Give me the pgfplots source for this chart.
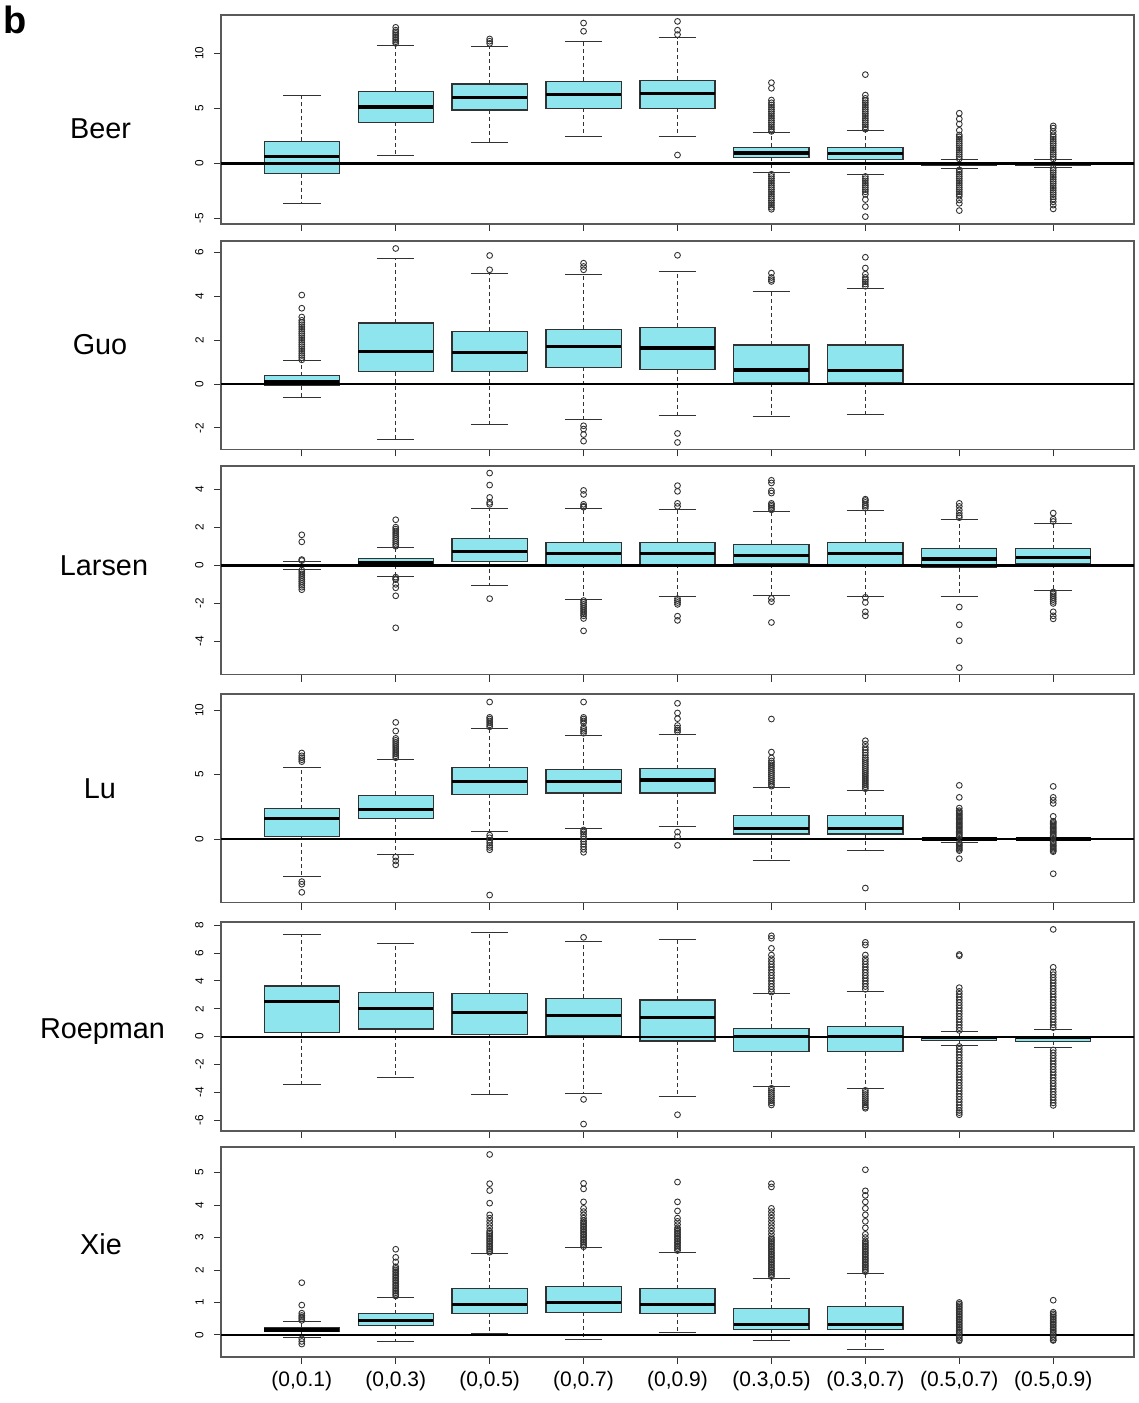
\documentclass[border=0pt]{standalone}
\usepackage{pgfplots}
\pgfplotsset{compat=1.18}
\usepgfplotslibrary{statistics}
\usepackage{fontspec}
\setmainfont{Liberation Sans}
\definecolor{boxcyan}{RGB}{142,229,238}
\definecolor{boxedge}{RGB}{50,50,50}

\pgfplotsset{
  panel/.style={
    scale only axis, width=456.5pt, anchor=north west,
    xmin=0.14, xmax=9.86,
    xtick={1,2,3,4,5,6,7,8,9}, xticklabels={{},{},{},{},{},{},{},{},{}},
    tick align=outside, tick pos=left,
    major tick length=3.5pt,
    tick style={draw=black!80, line width=0.5pt},
    axis line style={draw=black!65, line width=0.7pt},
    yticklabel style={rotate=90, anchor=south, inner sep=0pt, font=\fontsize{5.9}{6}\selectfont},
    yticklabel shift=5pt,
    /pgf/number format/assume math mode=true,
    clip=false,
  },
  bxs/.style={
    boxplot/draw direction=y,
    mark=o, mark size=1.45pt,
    mark options={draw=black!80, line width=0.45pt, solid, fill=none},
    boxplot/box extend=0.8,
    boxplot/whisker extend=0.4,
    boxplot/every box/.style={fill=boxcyan, draw=boxedge, line width=0.6pt},
    boxplot/every median/.style={draw=black, line width=1.6pt},
    boxplot/draw/lower whisker/.code={%
      \draw[draw=boxedge, line width=0.5pt, dash pattern=on 2pt off 1.5pt]
        (boxplot box cs:\pgfplotsboxplotvalue{lower quartile},0.5) --
        (boxplot box cs:\pgfplotsboxplotvalue{lower whisker},0.5);
      \draw[draw=boxedge, line width=0.5pt]
        (boxplot whisker cs:\pgfplotsboxplotvalue{lower whisker},0) --
        (boxplot whisker cs:\pgfplotsboxplotvalue{lower whisker},1);
    },
    boxplot/draw/upper whisker/.code={%
      \draw[draw=boxedge, line width=0.5pt, dash pattern=on 2pt off 1.5pt]
        (boxplot box cs:\pgfplotsboxplotvalue{upper quartile},0.5) --
        (boxplot box cs:\pgfplotsboxplotvalue{upper whisker},0.5);
      \draw[draw=boxedge, line width=0.5pt]
        (boxplot whisker cs:\pgfplotsboxplotvalue{upper whisker},0) --
        (boxplot whisker cs:\pgfplotsboxplotvalue{upper whisker},1);
    },
  },
}

\newcommand{\bx}[7]{\addplot[bxs, boxplot prepared={draw position=#1, lower whisker=#2, lower quartile=#3, median=#4, upper quartile=#5, upper whisker=#6}] table[row sep=\\, y index=0] {data\\ #7};}
\newcommand{\bn}[6]{\addplot[bxs, boxplot prepared={draw position=#1, lower whisker=#2, lower quartile=#3, median=#4, upper quartile=#5, upper whisker=#6}] coordinates {};}
\newcommand{\bz}[7]{\addplot[bxs, boxplot/every median/.style={draw=none}, boxplot/every box/.style={draw=none,fill=none}, boxplot prepared={draw position=#1, lower whisker=#2, lower quartile=#3, median=#4, upper quartile=#5, upper whisker=#6}] table[row sep=\\, y index=0] {data\\ #7};}

\begin{document}
\begin{tikzpicture}
\path[use as bounding box] (0,0) rectangle (569.5pt,-701.5pt);
\node[anchor=base west, font=\bfseries\fontsize{19}{20}\selectfont, inner sep=0pt] at (1.5pt,-16.5pt) {b};
\begin{scope}[every node/.style={font=\fontsize{14.4}{16}\selectfont, anchor=base, inner sep=0pt}]
\node at (50.25pt,-69pt) {Beer};
\node at (50pt,-177.3pt) {Guo};
\node at (52pt,-287.7pt) {Larsen};
\node at (50pt,-399.2pt) {Lu};
\node at (51.25pt,-519.2pt) {Roepman};
\node at (50.5pt,-627.2pt) {Xie};
\end{scope}

% ---------------- Beer
\begin{axis}[panel, at={(110.5pt,-7.5pt)}, height=104.5pt, ymin=-5.52, ymax=13.48, ytick={-5,0,5,10}]
\bn{1}{-3.64}{-0.94}{0.64}{2.0}{6.18}
\bx{2}{0.69}{3.73}{5.12}{6.55}{10.73}{10.9\\11.05\\11.2\\11.35\\11.5\\11.65\\11.8\\11.95\\12.1\\12.36\\}
\bx{3}{1.85}{4.85}{6.0}{7.21}{10.64}{10.9\\11.1\\11.3\\}
\bx{4}{2.42}{5.0}{6.28}{7.45}{11.03}{12.0\\12.75\\}
\bx{5}{2.42}{5.0}{6.35}{7.55}{11.4}{11.7\\12.1\\12.9\\0.75\\}
\bx{6}{-0.85}{0.55}{0.94}{1.45}{2.78}{2.9\\3.1\\3.3\\3.5\\3.7\\3.9\\4.1\\4.3\\4.5\\4.7\\4.9\\5.1\\5.3\\5.5\\5.75\\6.82\\7.33\\-1.0\\-1.2\\-1.4\\-1.6\\-1.8\\-2.0\\-2.2\\-2.4\\-2.6\\-2.8\\-3.0\\-3.2\\-3.4\\-3.6\\-3.8\\-4.0\\-4.18\\}
\bx{7}{-1.06}{0.36}{0.87}{1.45}{2.96}{3.1\\3.3\\3.5\\3.7\\3.9\\4.1\\4.3\\4.5\\4.7\\4.9\\5.1\\5.3\\5.5\\5.7\\5.9\\6.2\\8.06\\-1.2\\-1.4\\-1.6\\-1.8\\-2.0\\-2.2\\-2.4\\-2.6\\-2.82\\-3.3\\-3.94\\-4.85\\}
\bx{8}{-0.45}{-0.15}{-0.05}{0.1}{0.33}{0.4\\0.6\\0.8\\1.0\\1.2\\1.4\\1.6\\1.8\\2.0\\2.2\\2.4\\2.57\\3.0\\3.57\\4.03\\4.55\\-0.6\\-0.8\\-1.0\\-1.2\\-1.4\\-1.6\\-1.8\\-2.0\\-2.2\\-2.4\\-2.6\\-2.8\\-3.0\\-3.34\\-3.64\\-4.3\\}
\bx{9}{-0.36}{-0.15}{-0.05}{0.05}{0.33}{0.4\\0.6\\0.8\\1.0\\1.2\\1.4\\1.6\\1.8\\2.0\\2.2\\2.4\\2.6\\2.9\\3.2\\3.4\\-0.45\\-0.65\\-0.85\\-1.05\\-1.25\\-1.45\\-1.65\\-1.85\\-2.05\\-2.25\\-2.45\\-2.65\\-2.85\\-3.05\\-3.25\\-3.5\\-3.8\\-4.15\\}
\addplot[black, line width=1.65pt] coordinates {(0.14,0) (9.86,0)};
\end{axis}

% ---------------- Guo
\begin{axis}[panel, at={(110.5pt,-120.5pt)}, height=104.25pt, ymin=-2.98, ymax=6.51, ytick={-2,0,2,4,6}]
\bx{1}{-0.61}{-0.08}{0.12}{0.38}{1.05}{1.1\\1.2\\1.3\\1.4\\1.5\\1.6\\1.7\\1.8\\1.9\\2.0\\2.1\\2.2\\2.3\\2.4\\2.5\\2.6\\2.7\\2.8\\2.9\\3.05\\3.45\\4.05\\}
\bx{2}{-2.54}{0.56}{1.49}{2.78}{5.72}{6.17\\}
\bx{3}{-1.83}{0.56}{1.45}{2.4}{5.02}{5.2\\5.85\\}
\bx{4}{-1.61}{0.76}{1.72}{2.5}{4.97}{5.2\\5.35\\5.5\\-1.9\\-2.05\\-2.3\\-2.6\\}
\bx{5}{-1.43}{0.65}{1.64}{2.59}{5.13}{5.86\\-2.25\\-2.66\\}
\bx{6}{-1.48}{0.06}{0.64}{1.78}{4.19}{4.67\\4.75\\4.85\\5.05\\}
\bx{7}{-1.37}{0.05}{0.61}{1.78}{4.37}{4.45\\4.55\\4.65\\4.75\\4.85\\5.0\\5.28\\5.77\\}
\addplot[black, line width=1.3pt] coordinates {(0.14,0) (9.86,0)};
\end{axis}

% ---------------- Larsen
\begin{axis}[panel, at={(110.5pt,-233pt)}, height=104.25pt, ymin=-5.73, ymax=5.21, ytick={-4,-2,0,2,4}]
\bx{1}{-0.2}{-0.05}{0.0}{0.05}{0.2}{0.25\\0.3\\1.23\\1.6\\-0.25\\-0.35\\-0.45\\-0.55\\-0.65\\-0.75\\-0.85\\-0.95\\-1.05\\-1.15\\-1.28\\}
\bx{2}{-0.58}{0.02}{0.12}{0.35}{0.91}{1.0\\1.1\\1.2\\1.3\\1.4\\1.5\\1.6\\1.7\\1.8\\1.9\\2.0\\2.39\\-0.62\\-0.7\\-0.75\\-1.0\\-1.18\\-1.6\\-3.28\\}
\bx{3}{-1.05}{0.19}{0.72}{1.40}{3.0}{3.2\\3.3\\3.56\\4.21\\4.84\\-1.75\\}
\bx{4}{-1.79}{0.05}{0.63}{1.21}{3.0}{3.05\\3.1\\3.2\\3.72\\3.93\\-1.85\\-1.95\\-2.05\\-2.15\\-2.25\\-2.35\\-2.45\\-2.55\\-2.65\\-2.79\\-3.44\\}
\bx{5}{-1.65}{0.05}{0.60}{1.21}{2.93}{3.09\\3.25\\3.88\\4.18\\-1.75\\-1.85\\-1.95\\-2.05\\-2.67\\-2.89\\}
\bx{6}{-1.58}{0.07}{0.51}{1.1}{2.81}{2.91\\3.0\\3.09\\3.17\\3.25\\3.79\\3.91\\4.32\\4.46\\-1.74\\-1.91\\-3.0\\}
\bx{7}{-1.63}{0.05}{0.61}{1.19}{2.89}{3.0\\3.1\\3.18\\3.3\\3.4\\3.47\\-1.68\\-1.95\\-2.44\\-2.65\\}
\bx{8}{-1.63}{-0.12}{0.33}{0.88}{2.4}{2.5\\2.6\\2.74\\2.91\\3.09\\3.25\\-2.19\\-3.12\\-3.96\\-5.37\\}
\bx{9}{-1.33}{0.07}{0.42}{0.88}{2.21}{2.3\\2.42\\2.74\\-1.4\\-1.5\\-1.6\\-1.7\\-1.8\\-1.9\\-2.0\\-2.44\\-2.65\\-2.81\\}
\addplot[black, line width=1.35pt] coordinates {(0.14,0) (9.86,0)};
\end{axis}

% ---------------- Lu
\begin{axis}[panel, at={(110.5pt,-347pt)}, height=104.25pt, ymin=-4.92, ymax=11.24, ytick={0,5,10}]
\bx{1}{-2.87}{0.21}{1.58}{2.35}{5.53}{6.0\\6.15\\6.3\\6.45\\6.67\\-3.3\\-3.5\\-4.13\\}
\bx{2}{-1.19}{1.6}{2.30}{3.39}{6.2}{6.3\\6.45\\6.6\\6.75\\6.9\\7.05\\7.2\\7.35\\7.5\\7.65\\7.8\\8.37\\9.04\\-1.4\\-1.7\\-2.0\\}
\bx{3}{0.57}{3.46}{4.47}{5.53}{8.53}{8.7\\8.85\\9.0\\9.15\\9.3\\9.43\\10.62\\0.3\\0.1\\-0.1\\-0.3\\-0.5\\-0.65\\-0.83\\-4.34\\}
\bx{4}{0.85}{3.57}{4.47}{5.37}{8.06}{8.2\\8.35\\8.5\\8.65\\9.0\\9.15\\9.3\\9.43\\10.62\\0.7\\0.55\\0.4\\0.2\\0.0\\-0.2\\-0.4\\-0.6\\-0.8\\-1.03\\}
\bx{5}{0.96}{3.57}{4.57}{5.45}{8.14}{8.3\\8.45\\8.6\\8.8\\9.33\\9.77\\10.52\\0.54\\0.18\\-0.49\\}
\bx{6}{-1.68}{0.39}{0.83}{1.81}{3.98}{4.1\\4.25\\4.4\\4.55\\4.7\\4.85\\5.0\\5.15\\5.3\\5.45\\5.6\\5.75\\5.9\\6.05\\6.28\\6.74\\9.3\\}
\bx{7}{-0.9}{0.39}{0.83}{1.81}{3.75}{3.9\\4.05\\4.2\\4.35\\4.5\\4.65\\4.8\\4.95\\5.1\\5.25\\5.4\\5.55\\5.7\\5.85\\6.0\\6.15\\6.3\\6.5\\6.7\\6.9\\7.1\\7.35\\7.62\\-3.8\\}
\bx{8}{-0.26}{-0.03}{0.0}{0.03}{0.1}{0.2\\0.3\\0.4\\0.5\\0.6\\0.7\\0.8\\0.9\\1.0\\1.1\\1.2\\1.3\\1.4\\1.5\\1.6\\1.7\\1.8\\1.9\\2.0\\2.1\\2.2\\2.4\\3.23\\4.16\\-0.3\\-0.4\\-0.5\\-0.6\\-0.7\\-0.8\\-0.9\\-1.52\\}
\bx{9}{-0.12}{-0.03}{0.0}{0.03}{0.12}{0.2\\0.3\\0.4\\0.5\\0.6\\0.7\\0.8\\0.9\\1.0\\1.1\\1.2\\1.3\\1.37\\1.76\\2.76\\3.0\\3.23\\4.08\\-0.2\\-0.3\\-0.4\\-0.5\\-0.6\\-0.7\\-0.8\\-0.9\\-0.98\\-2.69\\}
\addplot[black, line width=0.85pt] coordinates {(0.14,0) (9.86,0)};
\end{axis}

% ---------------- Roepman
\begin{axis}[panel, at={(110.5pt,-461pt)}, height=104.5pt, ymin=-6.77, ymax=8.23, ytick={-6,-4,-2,0,2,4,6,8}]
\bn{1}{-3.4}{0.31}{2.51}{3.64}{7.32}
\bn{2}{-2.92}{0.55}{2.03}{3.18}{6.67}
\bn{3}{-4.16}{0.17}{1.75}{3.09}{7.49}
\bx{4}{-4.07}{0.07}{1.53}{2.75}{6.84}{7.13\\-4.5\\-6.27\\}
\bx{5}{-4.28}{-0.31}{1.36}{2.63}{6.94}{-5.6\\}
\bx{6}{-3.56}{-1.08}{0.0}{0.6}{3.09}{3.2\\3.4\\3.6\\3.8\\4.0\\4.2\\4.4\\4.6\\4.8\\5.0\\5.2\\5.4\\5.6\\5.86\\6.34\\7.06\\7.24\\-3.7\\-3.85\\-4.0\\-4.15\\-4.3\\-4.45\\-4.6\\-4.75\\-4.9\\}
\bx{7}{-3.73}{-1.08}{0.0}{0.74}{3.25}{3.4\\3.6\\3.8\\4.0\\4.2\\4.4\\4.6\\4.8\\5.0\\5.2\\5.4\\5.6\\5.86\\6.58\\6.77\\-3.85\\-4.0\\-4.15\\-4.3\\-4.45\\-4.6\\-4.75\\-4.9\\-5.05\\-5.14\\}
\bx{8}{-0.6}{-0.26}{-0.03}{0.0}{0.38}{0.45\\0.65\\0.85\\1.05\\1.25\\1.45\\1.65\\1.85\\2.05\\2.25\\2.45\\2.65\\2.85\\3.05\\3.25\\3.52\\5.81\\5.9\\-0.7\\-0.9\\-1.1\\-1.3\\-1.5\\-1.7\\-1.9\\-2.1\\-2.3\\-2.5\\-2.7\\-2.9\\-3.1\\-3.3\\-3.5\\-3.7\\-3.9\\-4.1\\-4.3\\-4.5\\-4.7\\-4.9\\-5.1\\-5.3\\-5.45\\-5.6\\}
\bx{9}{-0.81}{-0.33}{-0.03}{0.0}{0.53}{0.65\\0.85\\1.05\\1.25\\1.45\\1.65\\1.85\\2.05\\2.25\\2.45\\2.65\\2.85\\3.05\\3.25\\3.45\\3.65\\3.85\\4.05\\4.25\\4.45\\4.65\\4.98\\7.7\\-0.95\\-1.15\\-1.35\\-1.55\\-1.75\\-1.95\\-2.15\\-2.35\\-2.55\\-2.75\\-2.95\\-3.15\\-3.35\\-3.55\\-3.75\\-3.95\\-4.15\\-4.35\\-4.55\\-4.75\\-4.93\\}
\addplot[black, line width=0.9pt] coordinates {(0.14,0) (9.86,0)};
\end{axis}

% ---------------- Xie
\begin{axis}[panel, at={(110.5pt,-573.5pt)}, height=105pt, ymin=-0.68, ymax=5.79, ytick={0,1,2,3,4,5},
  xticklabels={{(0,0.1)},{(0,0.3)},{(0,0.5)},{(0,0.7)},{(0,0.9)},{(0.3,0.5)},{(0.3,0.7)},{(0.5,0.7)},{(0.5,0.9)}},
  xticklabel style={font=\fontsize{10.5}{12}\selectfont}]
\bx{1}{-0.08}{0.10}{0.15}{0.24}{0.41}{0.45\\0.5\\0.55\\0.6\\0.67\\0.92\\1.61\\-0.12\\-0.2\\-0.28\\}
\bx{2}{-0.2}{0.30}{0.45}{0.66}{1.15}{1.2\\1.25\\1.3\\1.35\\1.4\\1.45\\1.5\\1.55\\1.6\\1.65\\1.7\\1.75\\1.8\\1.85\\1.9\\1.95\\2.0\\2.05\\2.1\\2.25\\2.39\\2.64\\}
\bx{3}{0.05}{0.67}{0.93}{1.43}{2.52}{2.55\\2.6\\2.65\\2.7\\2.75\\2.8\\2.85\\2.9\\2.95\\3.0\\3.05\\3.1\\3.15\\3.2\\3.3\\3.4\\3.5\\3.6\\3.7\\4.06\\4.45\\4.66\\5.56\\}
\bx{4}{-0.15}{0.7}{0.99}{1.5}{2.69}{2.72\\2.77\\2.82\\2.87\\2.92\\2.97\\3.02\\3.07\\3.12\\3.17\\3.22\\3.27\\3.32\\3.37\\3.42\\3.47\\3.52\\3.6\\3.7\\3.8\\3.9\\4.1\\4.5\\4.67\\}
\bx{5}{0.08}{0.67}{0.94}{1.43}{2.54}{2.6\\2.65\\2.7\\2.75\\2.8\\2.85\\2.9\\2.95\\3.0\\3.05\\3.1\\3.15\\3.2\\3.25\\3.3\\3.4\\3.5\\3.6\\3.82\\4.1\\4.71\\}
\bx{6}{-0.16}{0.17}{0.31}{0.81}{1.75}{1.8\\1.85\\1.9\\1.95\\2.0\\2.05\\2.1\\2.15\\2.2\\2.25\\2.3\\2.35\\2.4\\2.45\\2.5\\2.55\\2.6\\2.65\\2.7\\2.75\\2.8\\2.85\\2.9\\2.95\\3.0\\3.1\\3.2\\3.3\\3.4\\3.5\\3.6\\3.7\\3.8\\3.9\\4.56\\4.66\\}
\bx{7}{-0.44}{0.17}{0.33}{0.88}{1.9}{1.95\\2.0\\2.05\\2.1\\2.15\\2.2\\2.25\\2.3\\2.35\\2.4\\2.45\\2.5\\2.55\\2.6\\2.65\\2.7\\2.75\\2.8\\2.85\\2.9\\3.0\\3.1\\3.3\\3.5\\3.7\\3.9\\4.1\\4.3\\4.44\\5.09\\}
\bz{8}{0}{0}{0}{0}{0}{0.05\\0.1\\0.15\\0.2\\0.25\\0.3\\0.35\\0.4\\0.45\\0.5\\0.55\\0.6\\0.65\\0.7\\0.75\\0.8\\0.85\\0.9\\0.95\\1.0\\-0.05\\-0.1\\-0.15\\-0.18\\}
\bz{9}{0}{0}{0}{0}{0}{0.05\\0.1\\0.15\\0.2\\0.25\\0.3\\0.35\\0.4\\0.45\\0.5\\0.55\\0.6\\0.65\\0.7\\1.07\\-0.05\\-0.1\\-0.15\\-0.17\\}
\addplot[black, line width=1.2pt] coordinates {(0.14,0) (9.86,0)};
\end{axis}
\end{tikzpicture}
\end{document}
